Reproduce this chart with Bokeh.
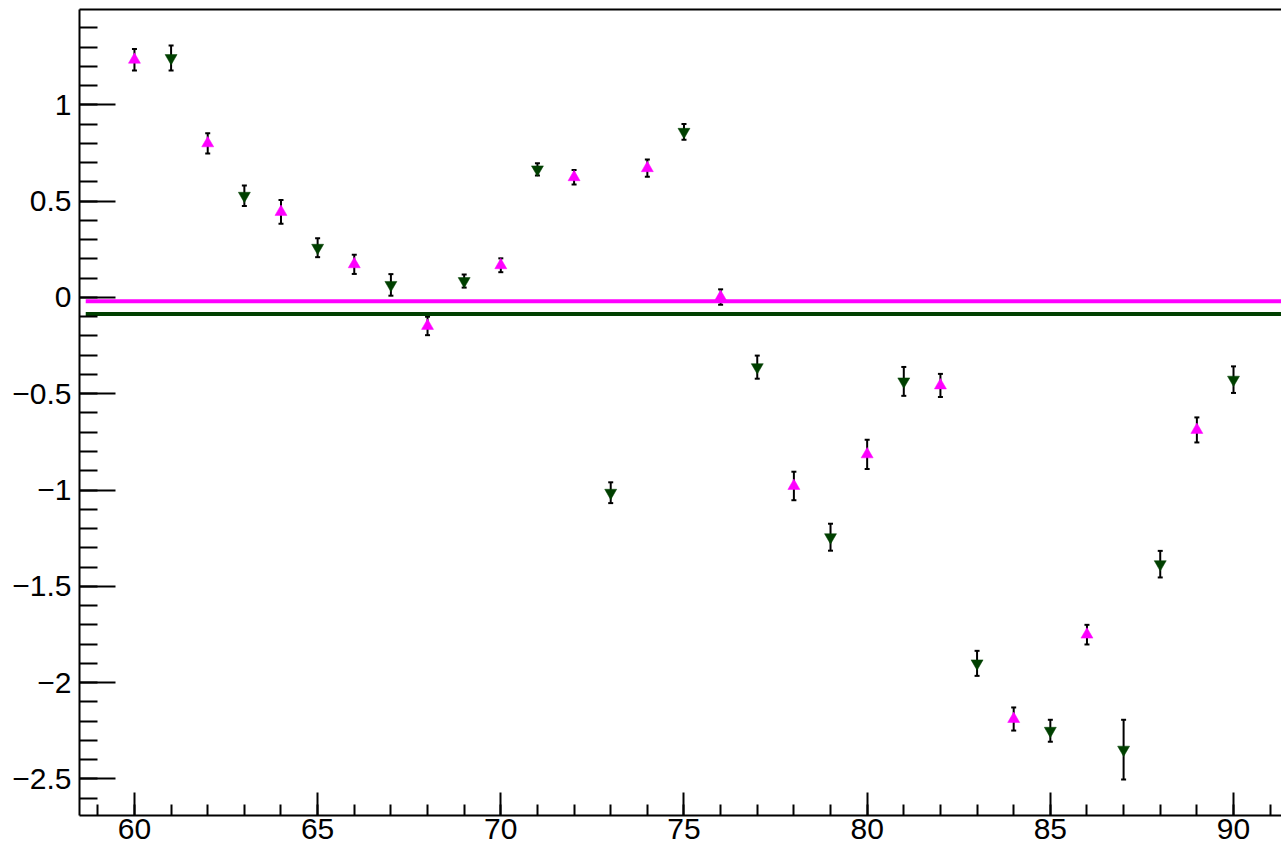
from bokeh.plotting import figure
from bokeh.models import (ColumnDataSource, Whisker, TeeHead, SingleIntervalTicker,
                          LinearAxis, FixedTicker, CustomJSTickFormatter, Range1d)
from bokeh.embed import file_html
from bokeh.resources import INLINE

# ---- data ----
magenta_x = [60, 62, 64, 66, 68, 70, 72, 74, 76, 78, 80, 82, 84, 86, 89]
magenta_y = [1.234, 0.800, 0.444, 0.172, -0.148, 0.167, 0.624, 0.671, 0.002,
             -0.979, -0.815, -0.457, -2.189, -1.751, -0.688]
magenta_err = [0.056, 0.053, 0.062, 0.050, 0.048, 0.036, 0.038, 0.045, 0.040,
               0.074, 0.076, 0.060, 0.060, 0.051, 0.065]

green_x = [61, 63, 65, 67, 69, 71, 73, 75, 77, 79, 81, 83, 85, 87, 88, 90]
green_y = [1.243, 0.528, 0.258, 0.065, 0.085, 0.665, -1.014, 0.860, -0.362,
           -1.245, -0.436, -1.900, -2.250, -2.348, -1.385, -0.427]
green_err = [0.065, 0.053, 0.049, 0.056, 0.034, 0.032, 0.054, 0.041, 0.060,
             0.070, 0.075, 0.065, 0.057, 0.155, 0.069, 0.069]

fit_x = [58.67, 91.31]
magenta_level = -0.020
green_level = -0.086

x_lim = (58.5, 91.31)
y_lim = (-2.69, 1.495)

MAGENTA = "#ff00ff"
GREEN = "#004000"
FONT = "Liberation Sans"

p = figure(width=1281, height=852, output_backend="svg", toolbar_location=None,
           x_range=Range1d(*x_lim), y_range=Range1d(*y_lim),
           min_border_left=79, min_border_right=0, min_border_top=9, min_border_bottom=37)
p.outline_line_color = None
p.grid.visible = False
p.background_fill_color = "white"

fmt = CustomJSTickFormatter(code="""
const v = Math.round(tick*1000)/1000;
return v < 0 ? "\\u2212" + String(-v) : String(v);
""")

for ax in (p.xaxis[0], p.yaxis[0]):
    ax.axis_line_width = 2
    ax.major_tick_line_width = 2
    ax.minor_tick_line_width = 2
    ax.major_tick_out = 0
    ax.minor_tick_out = 0
    ax.major_label_text_font = FONT
    ax.major_label_text_font_size = "30px"
    ax.major_label_text_color = "black"
    ax.formatter = fmt

p.xaxis[0].ticker = SingleIntervalTicker(interval=5, num_minor_ticks=5)
p.xaxis[0].major_tick_in = 23
p.xaxis[0].minor_tick_in = 11
p.xaxis[0].major_label_standoff = 3

p.yaxis[0].ticker = SingleIntervalTicker(interval=0.5, num_minor_ticks=5)
p.yaxis[0].major_tick_in = 36
p.yaxis[0].minor_tick_in = 18
p.yaxis[0].major_label_standoff = 8

top = LinearAxis(ticker=FixedTicker(ticks=[], minor_ticks=[]), major_tick_in=0, major_tick_out=0,
                 minor_tick_in=0, minor_tick_out=0, major_label_text_font_size="0px",
                 axis_line_width=2)
p.add_layout(top, "above")

# horizontal fitted levels
p.line(fit_x, [magenta_level] * 2, line_color=MAGENTA, line_width=4)
p.line(fit_x, [green_level] * 2, line_color=GREEN, line_width=4)

def series(xs, ys, es, color, marker):
    src = ColumnDataSource(dict(x=xs, y=ys,
                                lo=[y - e for y, e in zip(ys, es)],
                                hi=[y + e for y, e in zip(ys, es)]))
    w = Whisker(base="x", upper="hi", lower="lo", source=src, line_width=2, line_color="black",
                upper_head=TeeHead(size=5, line_width=2, line_color="black"),
                lower_head=TeeHead(size=5, line_width=2, line_color="black"))
    p.add_layout(w)
    p.scatter("x", "y", source=src, marker=marker, size=12, fill_color=color,
              line_color=color, line_width=0.5)

series(magenta_x, magenta_y, magenta_err, MAGENTA, "triangle")
series(green_x, green_y, green_err, GREEN, "inverted_triangle")

open("out.html", "w").write(file_html(p, INLINE))
